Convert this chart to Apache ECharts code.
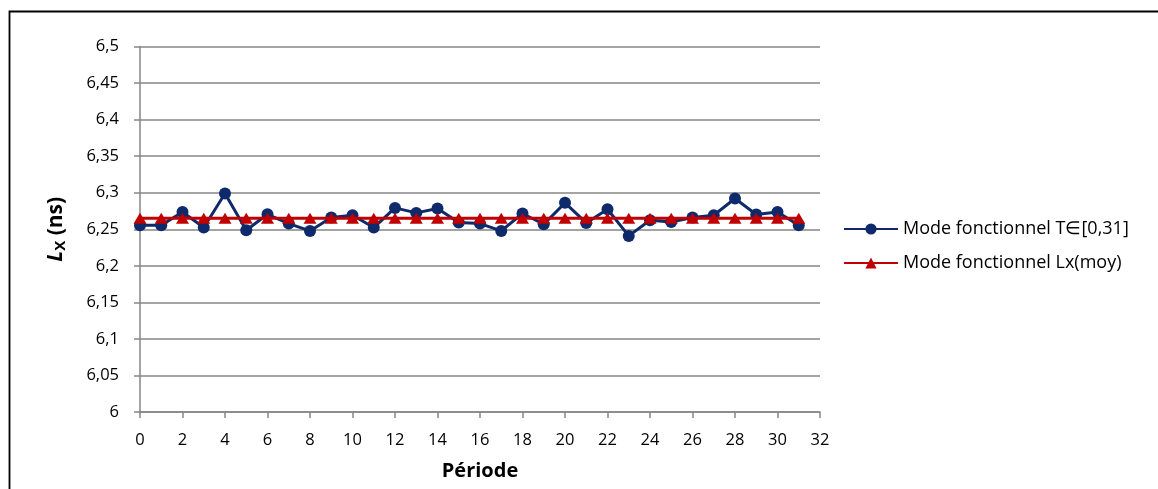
<!DOCTYPE html>
<html>
<head>
<meta charset="utf-8">
<script src="https://cdn.jsdelivr.net/npm/echarts@6/dist/echarts.min.js"></script>
<style>
html,body{margin:0;padding:0;background:#fff;}
#c{width:1158px;height:489px;}
</style>
</head>
<body>
<div id="c"></div>
<script>
const periods = [0,1,2,3,4,5,6,7,8,9,10,11,12,13,14,15,16,17,18,19,20,21,22,23,24,25,26,27,28,29,30,31];
const lxValues = [6.2555,6.2555,6.2737,6.2523,6.299,6.2486,6.2705,6.2578,6.2477,6.266,6.2692,6.2523,6.2792,6.2724,6.2783,6.2591,
                  6.2578,6.2477,6.2715,6.2568,6.2861,6.2587,6.2774,6.2409,6.2623,6.26,6.266,6.2692,6.292,6.2701,6.2737,6.2555];
const lxMean = [6.265,6.265,6.265,6.265,6.265,6.265,6.265,6.265,6.265,6.265,6.265,6.265,6.265,6.265,6.265,6.265,
                6.265,6.265,6.265,6.265,6.265,6.265,6.265,6.265,6.265,6.265,6.265,6.265,6.265,6.265,6.265,6.265];
const yTickLabels = ['6','6,05','6,1','6,15','6,2','6,25','6,3','6,35','6,4','6,45','6,5'];
const xTickLabels = ['0','2','4','6','8','10','12','14','16','18','20','22','24','26','28','30','32'];
const seriesNames = ['Mode fonctionnel T\u2208[0,31]', 'Mode fonctionnel Lx(moy)'];

const FONT = 'Open Sans';
const chart = echarts.init(document.getElementById('c'), null, {renderer:'canvas'});
chart.setOption({
  animation:false,
  backgroundColor:'#fff',
  textStyle:{fontFamily:FONT, color:'#000'},
  grid:{left:140, right:338, top:46.5, bottom:77, containLabel:false, outerBoundsMode:'none'},
  graphic:[{type:'rect', shape:{x:9.5, y:11.5, width:1300, height:600}, style:{fill:null, stroke:'#000', lineWidth:1.8}, silent:true}],
  legend:{
    orient:'vertical', left:838, top:215, padding:5, itemWidth:54, itemHeight:14, itemGap:16,
    textStyle:{fontFamily:FONT, fontSize:18, color:'#000'},
    data:seriesNames
  },
  xAxis:{
    type:'value', min:0, max:32, interval:2,
    axisLine:{show:true, lineStyle:{color:'#868686', width:1.5}},
    axisTick:{show:true, inside:false, length:6, lineStyle:{color:'#868686', width:1.5}},
    splitLine:{show:false},
    axisLabel:{fontFamily:FONT, fontSize:16.5, color:'#000', margin:20,
      formatter:function(v){ return xTickLabels[Math.round(v/2)]; }},
    name:'Période', nameLocation:'middle', nameGap:49,
    nameTextStyle:{fontFamily:FONT, fontSize:20, fontWeight:'bold', color:'#000'}
  },
  yAxis:{
    type:'value', min:6, max:6.5, interval:0.05,
    axisLine:{show:true, lineStyle:{color:'#868686', width:1.5}},
    axisTick:{show:true, inside:false, length:6, lineStyle:{color:'#868686', width:1.5}},
    splitLine:{show:true, lineStyle:{color:'#868686', width:1.5}},
    axisLabel:{fontFamily:FONT, fontSize:16.5, color:'#000', margin:21,
      formatter:function(v){ return yTickLabels[Math.round((v-6)/0.05)]; }},
    name:'{l|L}{s|X}{n| (ns)}', nameLocation:'middle', nameGap:72, nameRotate:90,
    nameTextStyle:{
      rich:{
        l:{fontFamily:FONT, fontSize:21, fontWeight:'bold', fontStyle:'italic', color:'#000'},
        s:{fontFamily:FONT, fontSize:15, fontWeight:'bold', color:'#000', verticalAlign:'bottom', padding:[9,0,0,0]},
        n:{fontFamily:FONT, fontSize:21, fontWeight:'bold', color:'#000'}
      }
    }
  },
  series:[
    {
      name:seriesNames[0], type:'line',
      data:periods.map((p,i)=>[p, lxValues[i]]),
      symbol:'circle', symbolSize:12,
      lineStyle:{color:'#0e2a6b', width:3},
      itemStyle:{color:'#0e2a6b'},
      z:2
    },
    {
      name:seriesNames[1], type:'line',
      data:periods.map((p,i)=>[p, lxMean[i]]),
      symbol:'triangle', symbolSize:[13,11],
      lineStyle:{color:'#c00000', width:3},
      itemStyle:{color:'#c00000'},
      z:3
    }
  ]
});
</script>
</body>
</html>
